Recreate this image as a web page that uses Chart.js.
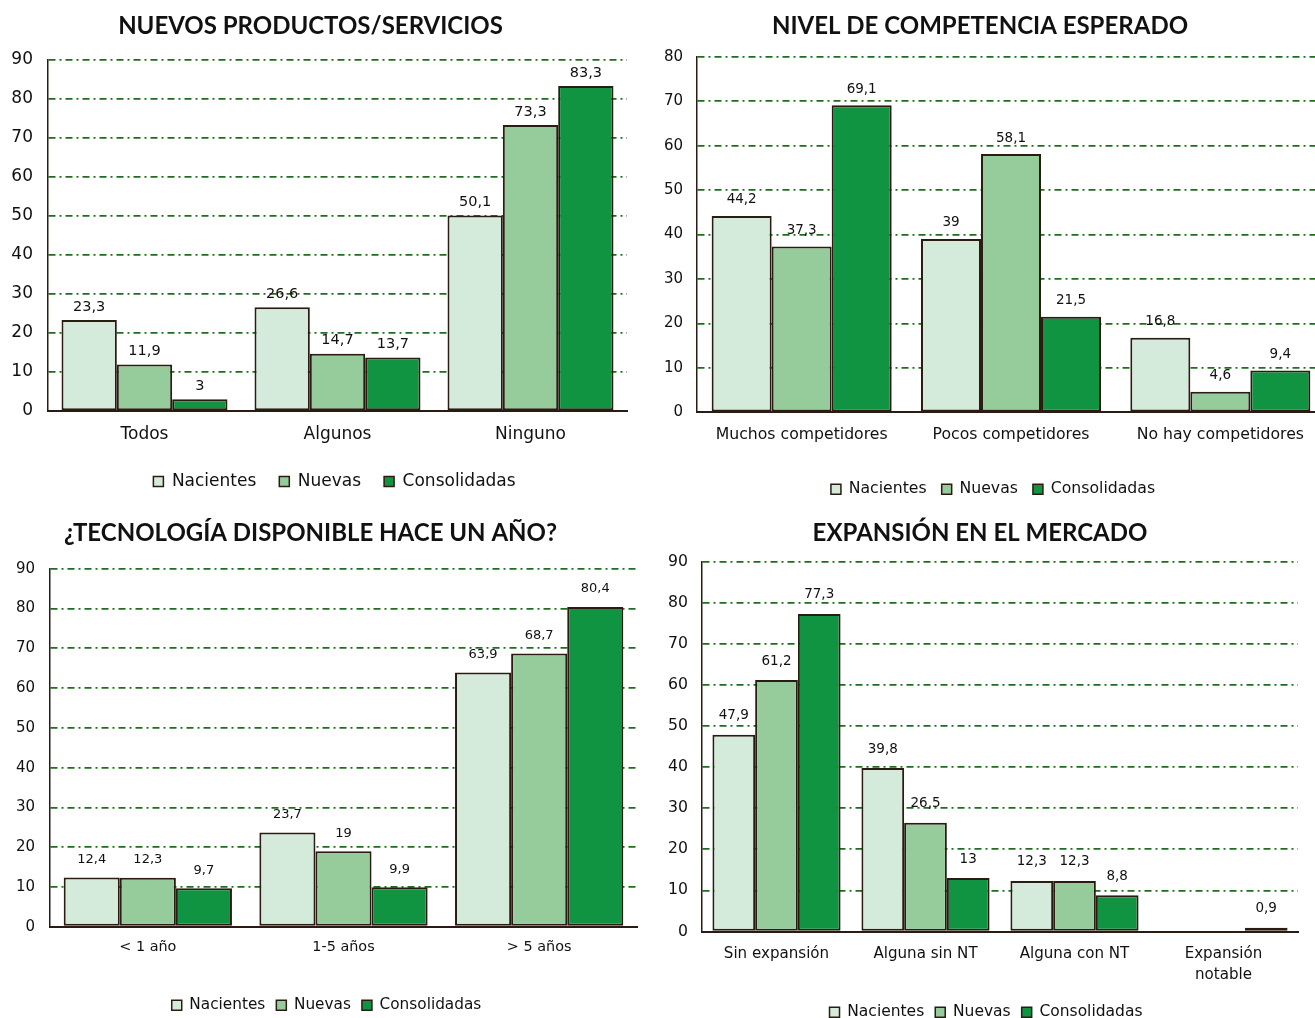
<!DOCTYPE html>
<html><head><meta charset="utf-8">
<script src="https://cdn.jsdelivr.net/npm/chart.js@4/dist/chart.umd.min.js"></script>
<style>
html,body{margin:0;padding:0;background:#fff;}
#wrap{position:relative;width:1315px;height:1018px;overflow:hidden;}
.c{position:absolute;}
</style></head><body>
<div id="wrap">
<div class="c" style="left:-6px;top:0;width:663px;height:504px"><canvas id="c1"></canvas></div>
<div class="c" style="left:635px;top:0;width:693px;height:511px"><canvas id="c2"></canvas></div>
<div class="c" style="left:-16px;top:512px;width:673px;height:515px"><canvas id="c3"></canvas></div>
<div class="c" style="left:662px;top:512px;width:653px;height:522px"><canvas id="c4"></canvas></div>
</div>
<script>
const seriesNames = ['Nacientes', 'Nuevas', 'Consolidadas'];

const title1 = 'NUEVOS PRODUCTOS/SERVICIOS';
const cats1 = ['Todos', 'Algunos', 'Ninguno'];
const nacientes1 = [23.3, 26.6, 50.1];
const nuevas1 = [11.9, 14.7, 73.3];
const consolidadas1 = [3, 13.7, 83.3];

const title2 = 'NIVEL DE COMPETENCIA ESPERADO';
const cats2 = ['Muchos competidores', 'Pocos competidores', 'No hay competidores'];
const nacientes2 = [44.2, 39, 16.8];
const nuevas2 = [37.3, 58.1, 4.6];
const consolidadas2 = [69.1, 21.5, 9.4];

const title3 = '¿TECNOLOGÍA DISPONIBLE HACE UN AÑO?';
const cats3 = ['< 1 año', '1-5 años', '> 5 años'];
const nacientes3 = [12.4, 23.7, 63.9];
const nuevas3 = [12.3, 19, 68.7];
const consolidadas3 = [9.7, 9.9, 80.4];

const title4 = 'EXPANSIÓN EN EL MERCADO';
const cats4 = ['Sin expansión', 'Alguna sin NT', 'Alguna con NT', ['Expansión', 'notable']];
const nacientes4 = [47.9, 39.8, 12.3, null];
const nuevas4 = [61.2, 26.5, 12.3, null];
const consolidadas4 = [77.3, 13, 8.8, 0.9];

const yMax = [90, 80, 90, 90];

const colors = ['#d4eadb', '#96cc9c', '#109441'];
const edge = '#2a1c12';
const gridCol = '#1f6e1f';
const FONT = '"DejaVu Sans", Verdana, sans-serif';

const valueLabels = {
  id: 'valueLabels',
  afterDatasetsDraw(chart, args, opts) {
    const ctx = chart.ctx;
    ctx.save();
    ctx.font = opts.size + 'px ' + FONT;
    ctx.fillStyle = '#111';
    ctx.textAlign = 'center';
    ctx.textBaseline = 'middle';
    chart.data.datasets.forEach((ds, i) => {
      const meta = chart.getDatasetMeta(i);
      meta.data.forEach((el, j) => {
        const v = ds.data[j];
        if (v === null || v === undefined) return;
        ctx.fillText(String(v).replace('.', ','), el.x, el.y - opts.offset);
      });
    });
    ctx.restore();
  }
};

const legendShift = {
  id: 'legendShift',
  beforeDraw(chart, args, opts) {
    const lg = chart.legend;
    if (lg && opts.dx) { lg.left += opts.dx; lg.right += opts.dx; opts.dx = 0; }
  }
};

function make(id, title, cats, a, b, c, cfg) {
  const data = [a, b, c];
  return new Chart(document.getElementById(id), {
    type: 'bar',
    data: {
      labels: cats,
      datasets: seriesNames.map((n, i) => ({
        label: n, data: data[i], backgroundColor: colors[i],
        borderColor: edge, borderWidth: 2, borderSkipped: false,
        categoryPercentage: cfg.catPct, barPercentage: 1
      }))
    },
    options: {
      responsive: true, maintainAspectRatio: false, animation: false,
      layout: { padding: cfg.pad },
      plugins: {
        title: { display: true, text: title, color: '#111',
          font: { family: 'Lato, "Open Sans", sans-serif', size: cfg.titleSize, weight: 'bold' },
          padding: cfg.titlePad },
        legend: { position: 'bottom',
          labels: { color: '#111', boxWidth: 10, boxHeight: 10, padding: cfg.legPad,
            font: { family: FONT, size: cfg.legSize },
            generateLabels(ch) {
              return ch.data.datasets.map((d, i) => ({ text: d.label, fillStyle: colors[i], strokeStyle: edge, lineWidth: 1.5, datasetIndex: i, fontColor: '#111' }));
            } } },
        tooltip: { enabled: false },
        valueLabels: { size: cfg.valSize, offset: cfg.valOff },
        legendShift: { dx: cfg.legDx }
      },
      scales: {
        x: {
          grid: { display: false, drawTicks: false },
          border: { color: edge, width: 2 },
          ticks: { color: '#111', padding: cfg.xPad, font: { family: FONT, size: cfg.catSize, lineHeight: 1.4 } },
          afterFit(s) { s.height = cfg.xH; }
        },
        y: {
          min: 0, max: cfg.max,
          grid: { drawTicks: false, color: ctx => ctx.tick && ctx.tick.value === 0 ? 'rgba(0,0,0,0)' : gridCol, lineWidth: 1.7 },
          border: { color: edge, width: 1.5, dash: [7, 4, 2, 4] },
          ticks: { stepSize: 10, color: '#111', padding: cfg.yPad, font: { family: FONT, size: cfg.tickSize } },
          afterFit(s) { s.width = cfg.yW; }
        }
      }
    },
    plugins: [valueLabels, legendShift]
  });
}

make('c1', title1, cats1, nacientes1, nuevas1, consolidadas1, {
  max: yMax[0], catPct: 0.86, pad: { left: 0, right: 30, top: 0, bottom: 4 },
  titleSize: 24, titlePad: { top: 12, bottom: 19 }, legSize: 17, legPad: 23, legDx: 24,
  valSize: 14.5, valOff: 13, tickSize: 17, catSize: 17, xPad: 12, xH: 39, yW: 54, yPad: 15
});
make('c2', title2, cats2, nacientes2, nuevas2, consolidadas2, {
  max: yMax[1], catPct: 0.86, pad: { left: 0, right: 3, top: 0, bottom: 4 },
  titleSize: 24, titlePad: { top: 12, bottom: 16 }, legSize: 15.7, legPad: 15, legDx: 13,
  valSize: 13.5, valOff: 16, tickSize: 15, catSize: 15.7, xPad: 12, xH: 54, yW: 62, yPad: 14
});
make('c3', title3, cats3, nacientes3, nuevas3, consolidadas3, {
  max: yMax[2], catPct: 0.86, pad: { left: 0, right: 20, top: 0, bottom: 4 },
  titleSize: 24, titlePad: { top: 7, bottom: 21 }, legSize: 15.3, legPad: 11, legDx: 16,
  valSize: 13, valOff: 18, tickSize: 15, catSize: 14.4, xPad: 10, xH: 60, yW: 66, yPad: 15
});
make('c4', title4, cats4, nacientes4, nuevas4, consolidadas4, {
  max: yMax[3], catPct: 0.86, pad: { left: 0, right: 17, top: 0, bottom: 4 },
  titleSize: 24, titlePad: { top: 7, bottom: 14 }, legSize: 15.5, legPad: 11, legDx: 6,
  valSize: 13.5, valOff: 19, tickSize: 15.7, catSize: 15.1, xPad: 12, xH: 62, yW: 40, yPad: 14
});
</script>
</body></html>
